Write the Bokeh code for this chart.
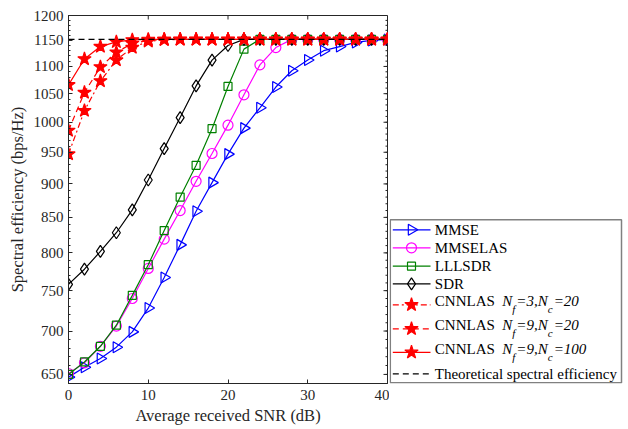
import math
from bokeh.plotting import figure
from bokeh.models import Range1d, FixedTicker, PrintfTickFormatter
from bokeh.layouts import row
from bokeh.core.properties import value
from bokeh.embed import file_html
from bokeh.resources import INLINE

# ---------------- data ----------------
snr = [0, 2, 4, 6, 8, 10, 12, 14, 16, 18, 20, 22, 24, 26, 28, 30, 32, 34, 36, 38, 40]
mmse = [647, 658, 668, 681, 699, 728, 767, 811, 859, 902, 947, 990, 1025, 1062, 1092, 1112, 1130, 1138, 1146, 1150, 1152]
mmselas = [651, 663, 682, 706, 740, 779, 819, 860, 904, 948, 995, 1048, 1103, 1136, 1152, 1152, 1152, 1152, 1152, 1152, 1152]
lllsdr = [650, 664, 682, 707, 744, 784, 831, 880, 929, 989, 1063, 1133, 1152, 1152, 1152, 1152, 1152, 1152, 1152, 1152, 1152]
sdr = [758, 778, 802, 828, 861, 906, 956, 1008, 1064, 1112, 1140, 1152, 1152, 1152, 1152, 1152, 1152, 1152, 1152, 1152, 1152]
cnn_f3_c20 = [947, 1020, 1073, 1112, 1136, 1148, 1151, 1152, 1152, 1152, 1152, 1152, 1152, 1152, 1152, 1152, 1152, 1152, 1152, 1152, 1152]
cnn_f9_c20 = [986, 1052, 1099, 1127, 1144, 1150, 1152, 1152, 1152, 1152, 1152, 1152, 1152, 1152, 1152, 1152, 1152, 1152, 1152, 1152, 1152]
cnn_f9_c100 = [1066, 1114, 1138, 1147, 1151, 1152, 1152, 1152, 1152, 1152, 1152, 1152, 1152, 1152, 1152, 1152, 1152, 1152, 1152, 1152, 1152]
theory_se = 1152

x_ticks = [0, 10, 20, 30, 40]
y_ticks = [650, 700, 750, 800, 850, 900, 950, 1000, 1050, 1100, 1150, 1200]
y_minor = list(range(640, 1201, 10))

x_label = "Average received SNR (dB)"
y_label = "Spectral efficiency (bps/Hz)"

# ---------------- style ----------------
FONT = "Liberation Serif"
AX = "#262626"
LW = 1.2
XMIN, XMAX = 0, 40
YMIN, YMAX = 640, 1200

W_MAIN, H = 389, 428
B_LEFT, B_RIGHT, B_TOP, B_BOTTOM = 68, 2, 15, 45
FRAME_W = W_MAIN - B_LEFT - B_RIGHT
FRAME_H = H - B_TOP - B_BOTTOM
TICK_MAJ, TICK_MIN = 4, 2

series = [
    # name, values, color, marker, size, dash, fill, angle
    ("MMSE", mmse, "#0000ff", "triangle", 11, "solid", None, -math.pi / 2),
    ("MMSELAS", mmselas, "#ff00ff", "circle", 10, "solid", None, 0.0),
    ("LLLSDR", lllsdr, "#008000", "square", 8, "solid", None, 0.0),
    ("SDR", sdr, "#000000", "diamond", 12, "solid", None, 0.0),
    ("CNNLAS", cnn_f3_c20, "#ff0000", "star", 14, "6 3 2 3", "#ff0000", 0.0),
    ("CNNLAS", cnn_f9_c20, "#ff0000", "star", 14, "6 4", "#ff0000", 0.0),
    ("CNNLAS", cnn_f9_c100, "#ff0000", "star", 14, "solid", "#ff0000", 0.0),
]

p = figure(width=W_MAIN, height=H,
           x_range=Range1d(XMIN, XMAX), y_range=Range1d(YMIN, YMAX),
           y_axis_type="log", output_backend="svg", toolbar_location=None,
           min_border_left=B_LEFT, min_border_right=B_RIGHT,
           min_border_top=B_TOP, min_border_bottom=B_BOTTOM)
p.grid.visible = False
p.outline_line_color = AX
p.outline_line_width = 1
p.background_fill_color = "white"
p.border_fill_color = "white"

xt = FixedTicker(ticks=x_ticks, minor_ticks=[])
yt = FixedTicker(ticks=y_ticks, minor_ticks=y_minor)


def style(ax):
    ax.axis_line_color = AX
    ax.axis_line_width = 1
    ax.major_tick_line_color = AX
    ax.minor_tick_line_color = AX
    ax.major_tick_in = TICK_MAJ
    ax.major_tick_out = 0
    ax.minor_tick_in = TICK_MIN
    ax.minor_tick_out = 0
    ax.major_label_text_font = FONT
    ax.major_label_text_font_size = "15px"
    ax.major_label_text_color = AX
    ax.axis_label_text_font = FONT
    ax.axis_label_text_font_size = "16.5px"
    ax.axis_label_text_font_style = "normal"
    ax.axis_label_text_color = AX


xa = p.xaxis[0]
xa.ticker = xt
xa.axis_label = x_label
style(xa)
xa.major_label_standoff = 6
xa.axis_label_standoff = 3

ya = p.yaxis[0]
ya.ticker = yt
ya.formatter = PrintfTickFormatter(format="%d")
ya.axis_label = y_label
style(ya)
ya.major_label_standoff = 5
ya.axis_label_standoff = 4

# mirrored inward ticks on the top and right edges (box on)
dx_per_px = (XMAX - XMIN) / FRAME_W
dlog_per_px = math.log10(YMAX / YMIN) / FRAME_H
top_x = [t for t in x_ticks if XMIN < t < XMAX]
p.segment(x0=top_x, y0=[YMAX] * len(top_x), x1=top_x,
          y1=[YMAX / 10 ** (TICK_MAJ * dlog_per_px)] * len(top_x),
          line_color=AX, line_width=1)
p.segment(x0=[XMAX] * len(y_ticks), y0=y_ticks,
          x1=[XMAX - TICK_MAJ * dx_per_px] * len(y_ticks), y1=y_ticks,
          line_color=AX, line_width=1)
p.segment(x0=[XMAX] * len(y_minor), y0=y_minor,
          x1=[XMAX - TICK_MIN * dx_per_px] * len(y_minor), y1=y_minor,
          line_color=AX, line_width=1)

for name, vals, col, mk, sz, dash, fill, ang in series:
    p.line(snr, vals, line_color=col, line_width=LW, line_dash=dash)
    p.scatter(snr, vals, marker=mk, size=sz, line_color=col, line_width=LW,
              fill_color=fill, angle=ang)

p.line([snr[0], snr[-1]], [theory_se, theory_se], line_color="#000000",
       line_width=LW, line_dash="6 4")

# ---------------- legend (separate panel, picture-pixel coordinates) ----------------
LX0 = W_MAIN
LW_FIG = 237
p2 = figure(width=LW_FIG, height=H, x_range=Range1d(LX0, LX0 + LW_FIG),
            y_range=Range1d(H - B_BOTTOM, B_TOP), output_backend="svg",
            toolbar_location=None,
            min_border=0, min_border_left=0, min_border_right=0,
            min_border_top=B_TOP, min_border_bottom=B_BOTTOM,
            x_axis_location=None, y_axis_location=None)
p2.outline_line_color = None
p2.grid.visible = False
p2.background_fill_color = "white"
p2.border_fill_color = "white"

p2.quad(left=[389.8], right=[621.0], top=[219.3], bottom=[382.2],
        fill_color="white", line_color="#808080", line_width=1.5)

sample_y = [229.3, 247.3, 265.7, 283.3, 304.3, 328.3, 351.8, 373.3]
text_y = [229.3, 247.3, 265.7, 283.3, 300.5, 324.5, 348.5, 373.3]
sx0, sx1, smid, tx = 392.3, 430.0, 411.0, 434.3

for i, (name, vals, col, mk, sz, dash, fill, ang) in enumerate(series):
    y = sample_y[i]
    p2.line([sx0, sx1], [y, y], line_color=col, line_width=LW, line_dash=dash)
    p2.scatter([smid], [y], marker=mk, size=sz, line_color=col, line_width=LW,
               fill_color=fill, angle=ang)
p2.line([sx0, sx1], [sample_y[7], sample_y[7]], line_color="#000000",
        line_width=LW, line_dash="6 4")

LFS = 15.0
names = [s[0] for s in series] + ["Theoretical spectral efficiency"]
p2.text(x=[tx] * len(names), y=text_y, text=names, text_font=value(FONT),
        text_font_size=value("%gpx" % LFS), text_baseline="middle", text_align="left",
        text_color="#000000")

# italic parameter annotations with subscripts
params = [("3", "20"), ("9", "20"), ("9", "100")]
WID = {'N': 0.667, 'f': 0.278, '=': 0.675, ',': 0.25, 'c': 0.444,
       '0': 0.5, '1': 0.5, '2': 0.5, '3': 0.5, '9': 0.5}
SUB = 11.0


def w(s, fs):
    return sum(WID[ch] for ch in s) * fs


main_x, main_y, main_t = [], [], []
sub_x, sub_y, sub_t = [], [], []
for k, (nf, nc) in enumerate(params):
    yy = text_y[4 + k]
    x = tx + 4.0 * LFS + 0.5 * LFS
    segs = [("N", False), ("f", True), ("=" + nf + ",N", False), ("c", True), ("=" + nc, False)]
    for s, is_sub in segs:
        if is_sub:
            sub_x.append(x); sub_y.append(yy + 8.0); sub_t.append(s)
            x += w(s, SUB) + 1.0
        else:
            main_x.append(x); main_y.append(yy); main_t.append(s)
            x += w(s, LFS)

p2.text(x=main_x, y=main_y, text=main_t, text_font=value(FONT),
        text_font_size=value("%gpx" % LFS), text_font_style="italic",
        text_baseline="middle", text_align="left", text_color="#000000")
p2.text(x=sub_x, y=sub_y, text=sub_t, text_font=value(FONT),
        text_font_size=value("%gpx" % SUB), text_font_style="italic",
        text_baseline="middle", text_align="left", text_color="#000000")

layout = row(p, p2)
open("out.html", "w").write(file_html(layout, INLINE))
